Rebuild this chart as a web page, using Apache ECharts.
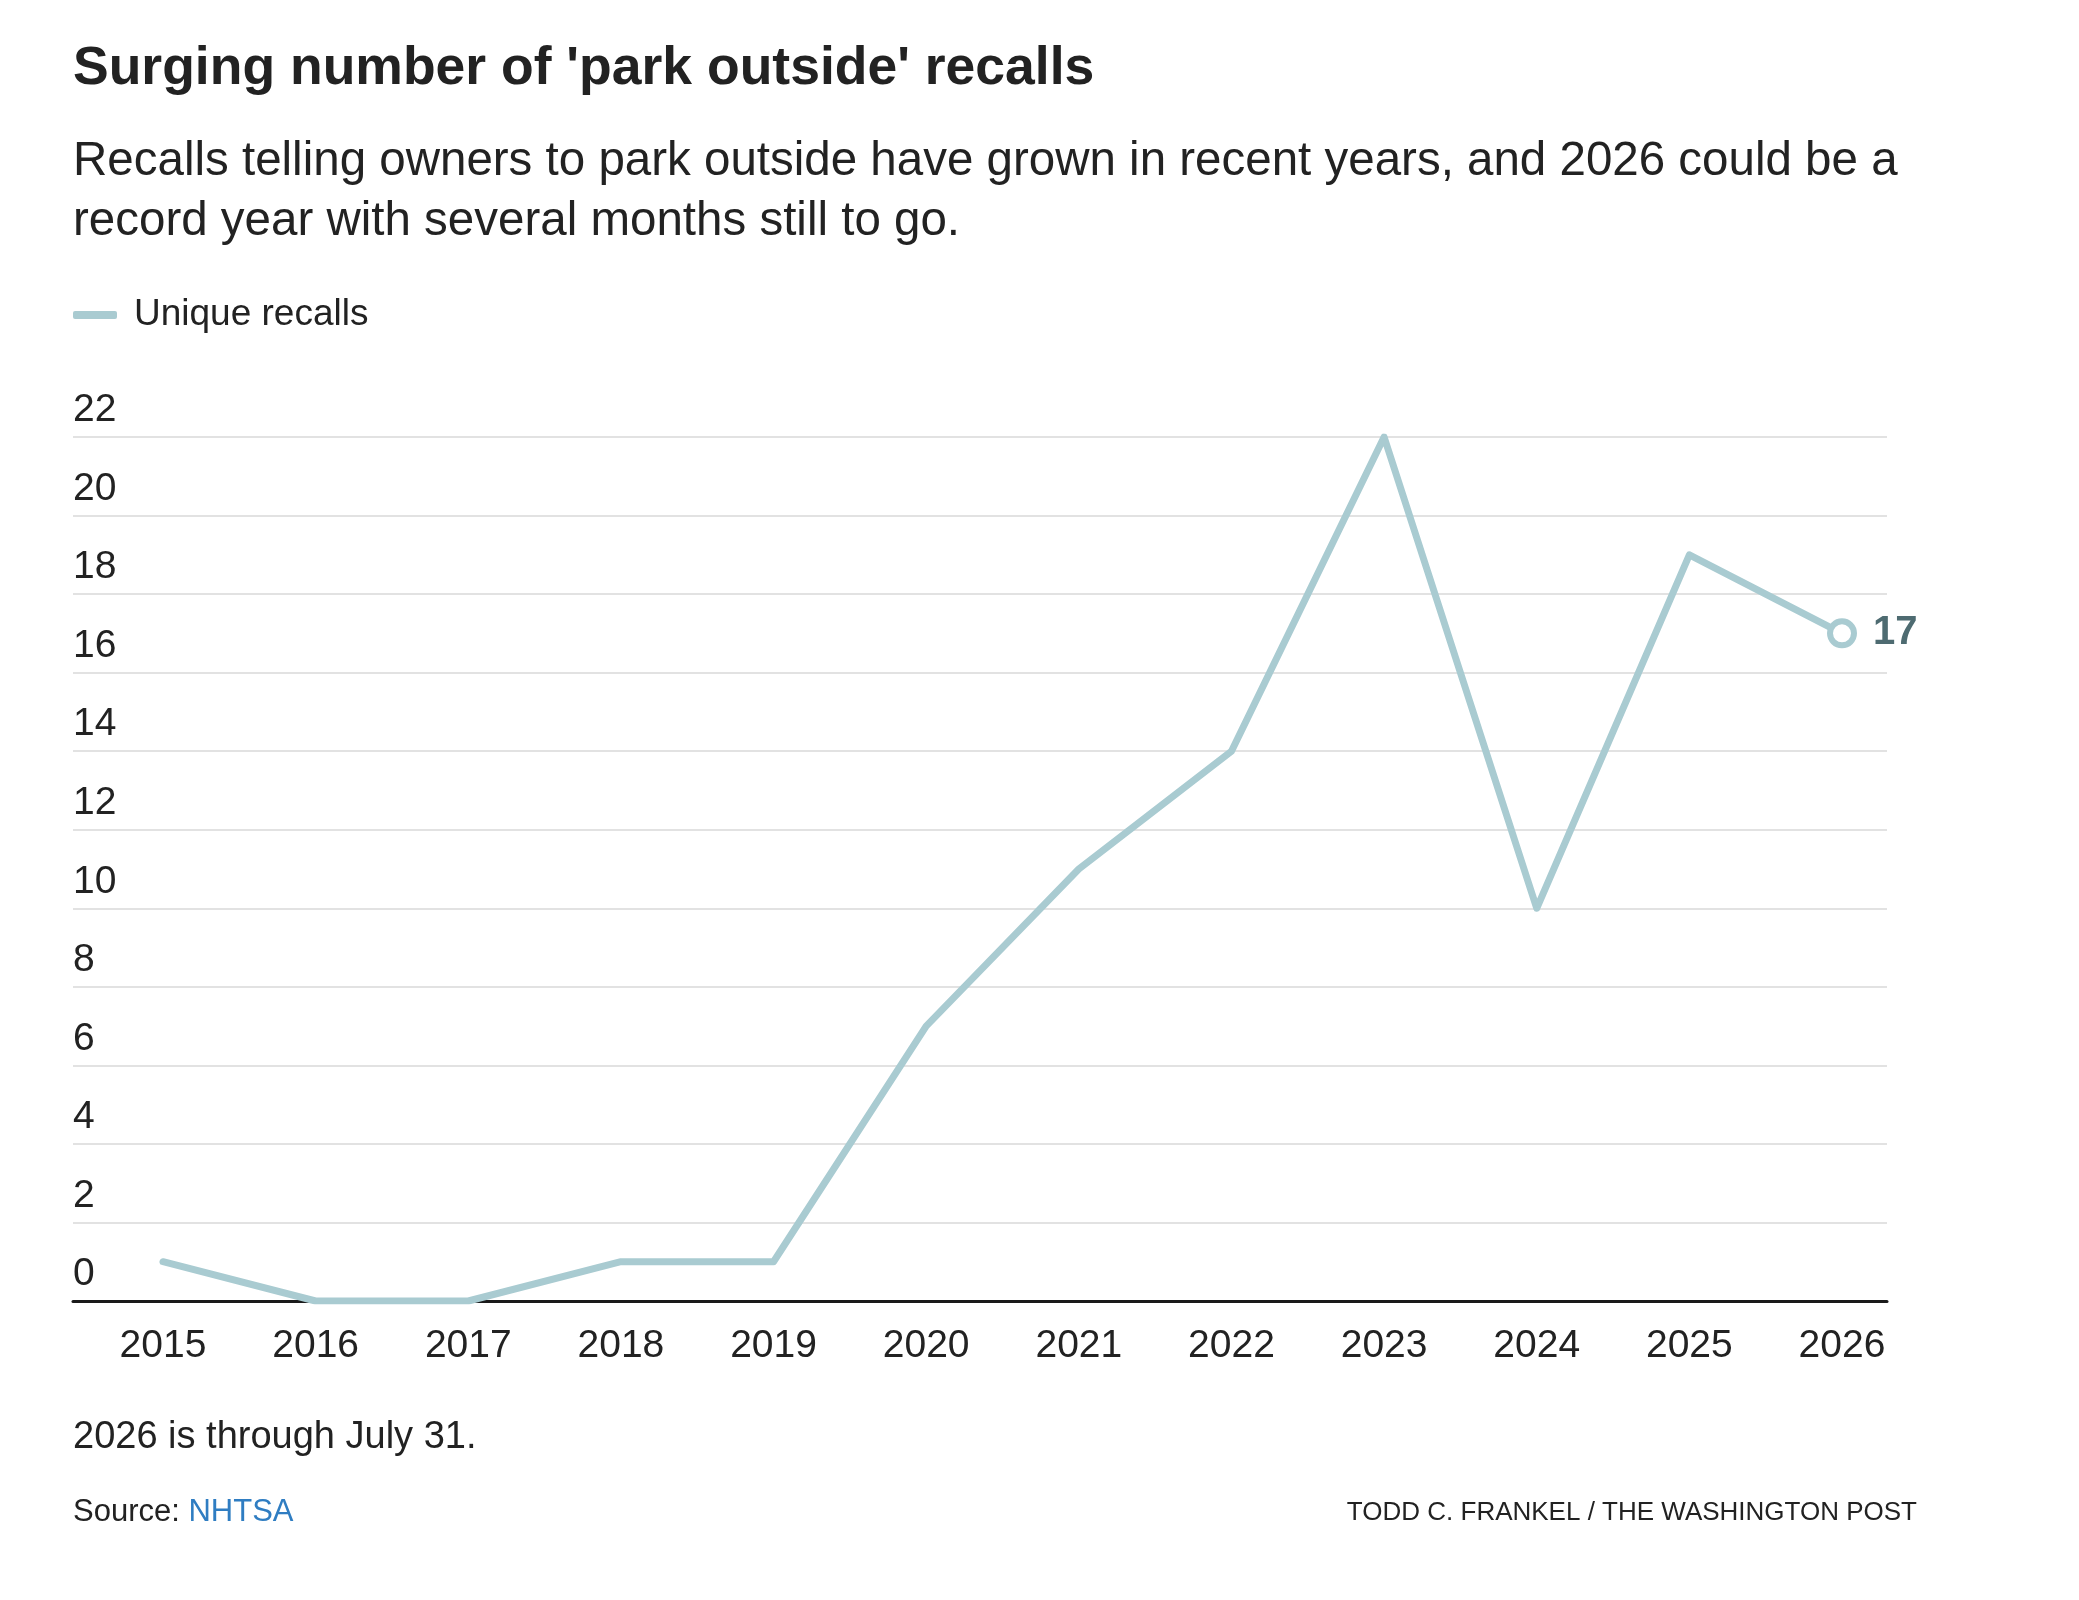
<!DOCTYPE html>
<html>
<head>
<meta charset="utf-8">
<script src="https://cdn.jsdelivr.net/npm/echarts@6/dist/echarts.min.js"></script>
<style>
html,body{margin:0;padding:0;background:#fff;}
#chart{width:2079px;height:1600px;}
</style>
</head>
<body>
<div id="chart"></div>
<script>
const years = ['2015','2016','2017','2018','2019','2020','2021','2022','2023','2024','2025','2026'];
const recalls = [1, 0, 0, 1, 1, 7, 11, 14, 22, 10, 19, 17];
const yMin = 0, yMax = 22, yStep = 2;
const seriesName = 'Unique recalls';

const lineColor = '#a9cbd1';
const FONT = '"Liberation Sans", Arial, sans-serif';

const seriesData = recalls.map((v, i) => {
  if (i === recalls.length - 1) {
    return {
      value: v,
      symbol: 'circle',
      symbolSize: 24,
      itemStyle: { color: '#ffffff', borderColor: lineColor, borderWidth: 6 },
      label: {
        show: true, position: 'right', distance: 16,
        formatter: '{c}', fontFamily: FONT, fontWeight: 'bold',
        fontSize: 40, color: '#4e6b71'
      }
    };
  }
  return v;
});

const chart = echarts.init(document.getElementById('chart'), null, {renderer: 'canvas'});
chart.setOption({
  backgroundColor: '#ffffff',
  animation: false,
  textStyle: { fontFamily: FONT },
  title: [
    { text: "Surging number of 'park outside' recalls", left: 73, top: 39, padding: 0,
      textStyle: { fontFamily: FONT, fontWeight: 'bold', fontSize: 53.5, color: '#222222', lineHeight: 60 } },
    { text: 'Recalls telling owners to park outside have grown in recent years, and 2026 could be a\nrecord year with several months still to go.',
      left: 73, top: 132, padding: 0,
      textStyle: { fontFamily: FONT, fontWeight: 'normal', fontSize: 47.5, color: '#222222', lineHeight: 60 } },
    { text: '2026 is through July 31.', left: 73, top: 1418, padding: 0,
      textStyle: { fontFamily: FONT, fontWeight: 'normal', fontSize: 38, color: '#222222', lineHeight: 40 } },
    { text: 'Source: {a|NHTSA}', left: 73, top: 1494, padding: 0,
      textStyle: { fontFamily: FONT, fontWeight: 'normal', fontSize: 31, color: '#222222', lineHeight: 36,
        rich: { a: { fontFamily: FONT, fontSize: 31, color: '#2f7dc2', lineHeight: 36 } } } },
    { text: 'TODD C. FRANKEL / THE WASHINGTON POST', right: 162, top: 1498, padding: 0,
      textStyle: { fontFamily: FONT, fontWeight: 'normal', fontSize: 26, color: '#222222', lineHeight: 30 } }
  ],
  legend: {
    left: 73, top: 295, padding: 0,
    icon: 'roundRect', itemWidth: 44, itemHeight: 8,
    data: [{ name: seriesName, itemStyle: { color: lineColor } }],
    textStyle: { fontFamily: FONT, fontSize: 37, color: '#222222', lineHeight: 40, padding: [0, 0, 0, 12] }
  },
  grid: [
    { left: 73, right: 192, top: 437, bottom: 299, containLabel: false },
    { left: 163, right: 237, top: 437, bottom: 299, containLabel: false }
  ],
  xAxis: [
    { gridIndex: 0, type: 'value', min: 0, max: 1,
      axisLine: { show: true, onZero: false, lineStyle: { color: '#1a1a1a', width: 3 } },
      axisTick: { show: false }, axisLabel: { show: false }, splitLine: { show: false } },
    { gridIndex: 1, type: 'category', data: years, boundaryGap: false,
      axisLine: { show: false }, axisTick: { show: false },
      axisLabel: { fontFamily: FONT, fontSize: 39, color: '#222222', margin: 26 },
      splitLine: { show: false } }
  ],
  yAxis: [
    { gridIndex: 0, type: 'value', min: yMin, max: yMax, interval: yStep,
      axisLine: { show: false }, axisTick: { show: false },
      axisLabel: { inside: true, margin: 0, align: 'left', verticalAlign: 'bottom',
        fontFamily: FONT, fontSize: 39, color: '#222222', padding: [0, 0, 7, 0] },
      splitLine: { show: true, lineStyle: { color: '#e2e2e2', width: 2 } } },
    { gridIndex: 1, type: 'value', min: yMin, max: yMax, interval: yStep, show: false,
      splitLine: { show: false } }
  ],
  series: [
    { name: seriesName, type: 'line', xAxisIndex: 1, yAxisIndex: 1,
      data: seriesData, symbol: 'none', smooth: false,
      lineStyle: { color: lineColor, width: 7, cap: 'round', join: 'round' },
      itemStyle: { color: lineColor }, z: 5 }
  ]
});
</script>
</body>
</html>
